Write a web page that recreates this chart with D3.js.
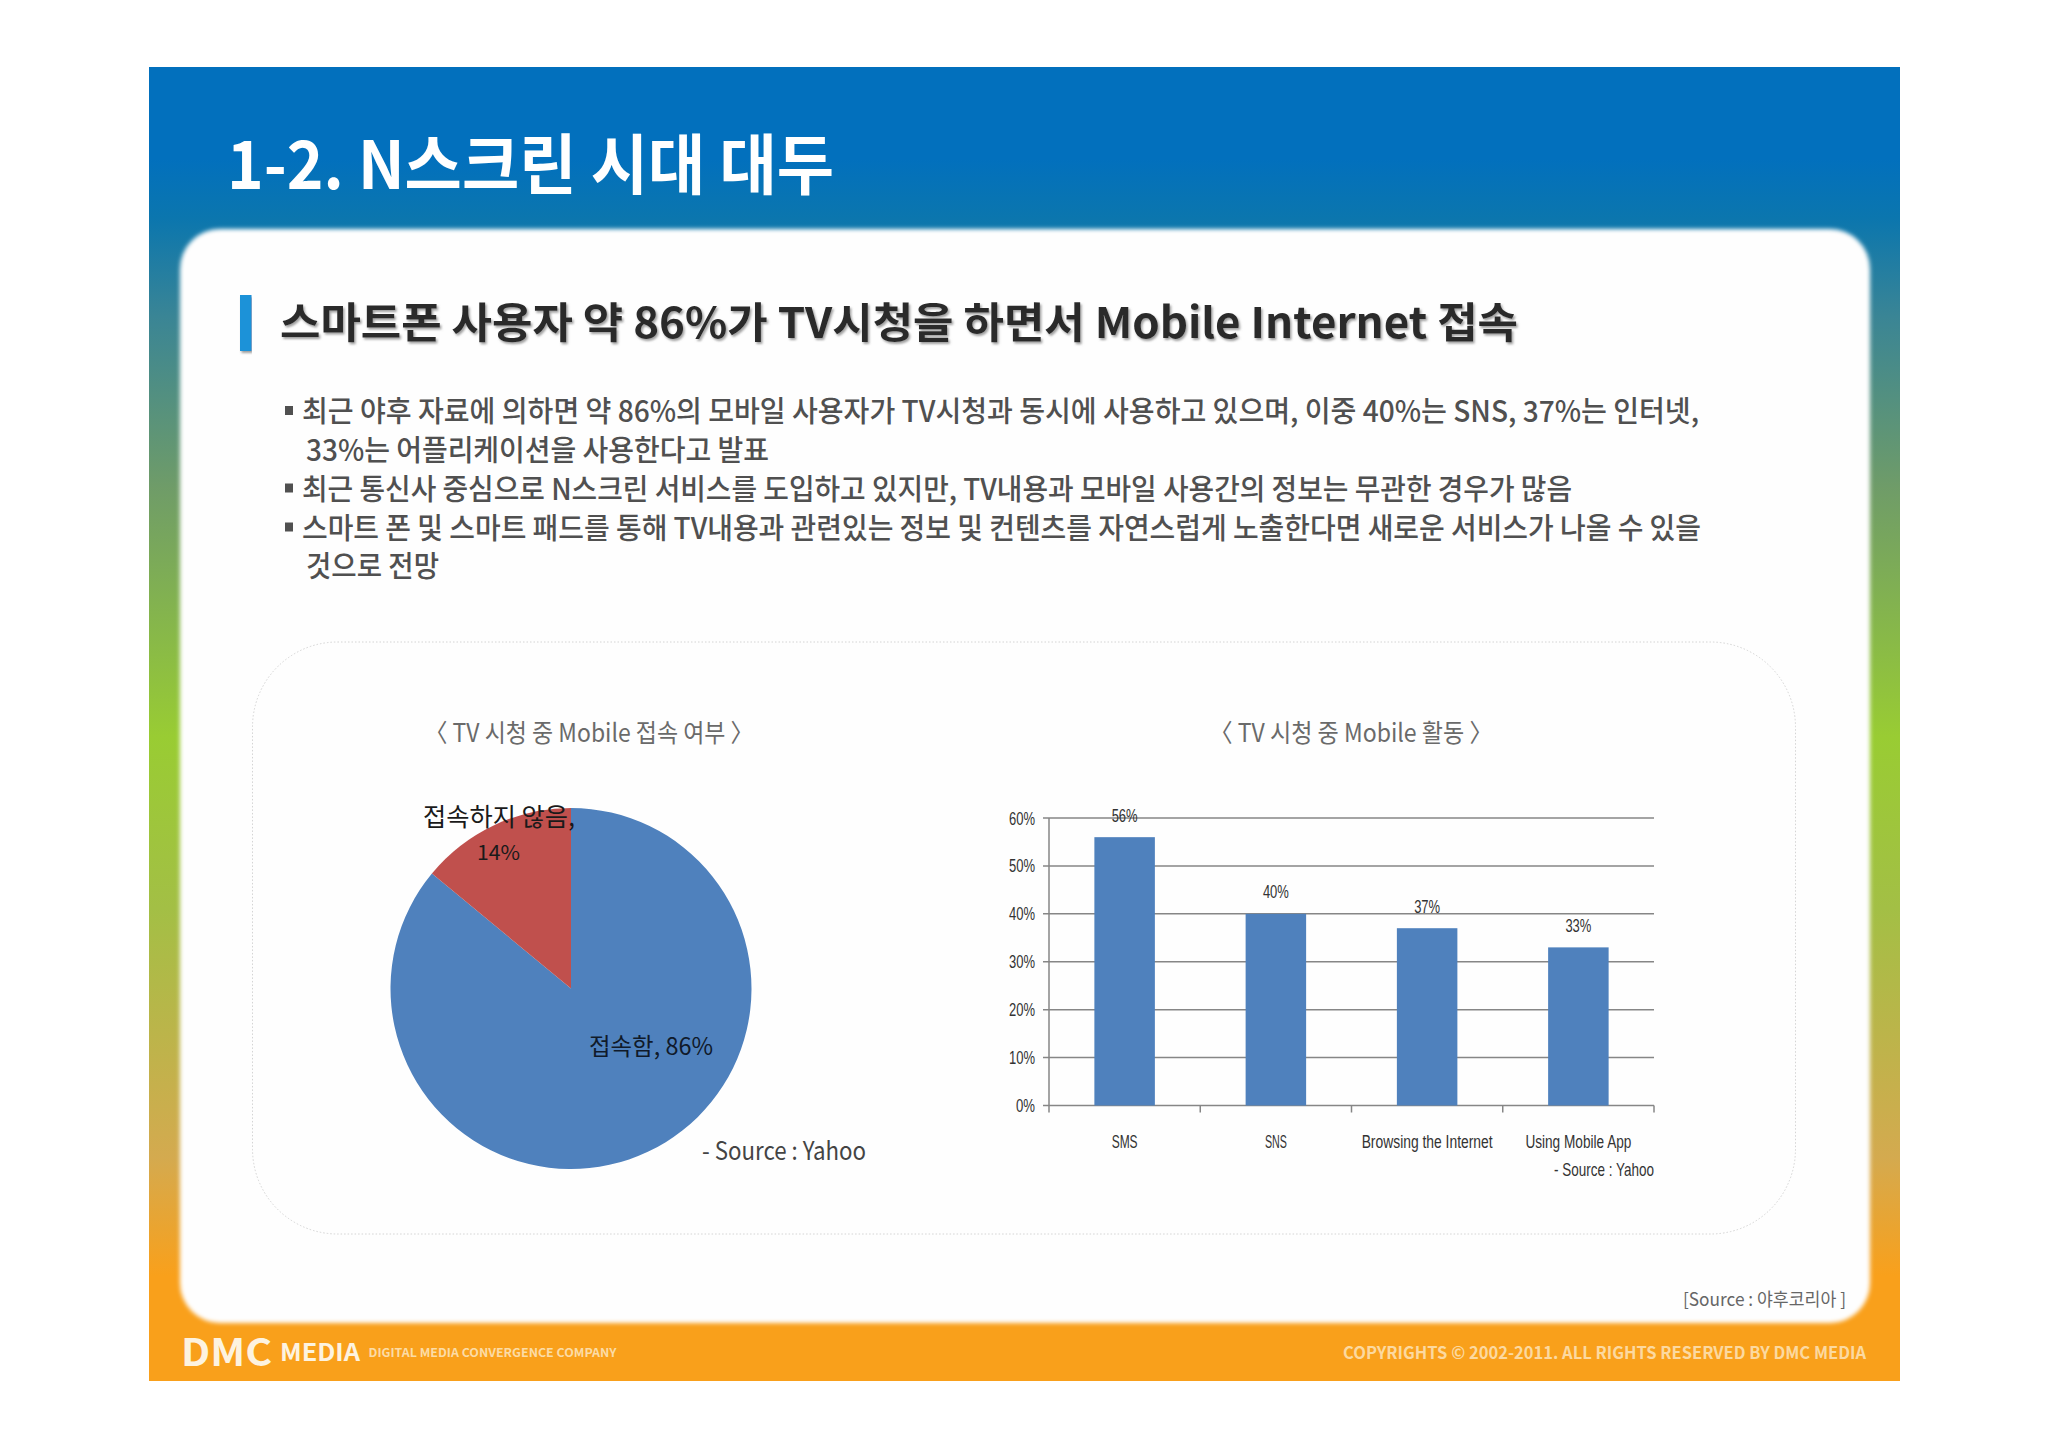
<!DOCTYPE html>
<html>
<head>
<meta charset="utf-8">
<style>
html, body { margin: 0; padding: 0; background: #fff; }
svg { display: block; }
text { font-family: "Noto Sans CJK KR", "Noto Sans", sans-serif; }
</style>
<script src="https://cdn.jsdelivr.net/npm/d3@7"></script>
</head>
<body>
<div id="chart"></div>
<script>
const pieLabels = ['접속함', '접속하지 않음'];
const pieValues = [86, 14];
const barCategories = ['SMS', 'SNS', 'Browsing the Internet', 'Using Mobile App'];
const barValues = [56, 40, 37, 33];
const barTicks = [0, 10, 20, 30, 40, 50, 60];
const bulletLines = [
    '최근 야후 자료에 의하면 약 86%의 모바일 사용자가 TV시청과 동시에 사용하고 있으며, 이중 40%는 SNS, 37%는 인터넷,',
    '33%는 어플리케이션을 사용한다고 발표',
    '최근 통신사 중심으로 N스크린 서비스를 도입하고 있지만, TV내용과 모바일 사용간의 정보는 무관한 경우가 많음',
    '스마트 폰 및 스마트 패드를 통해 TV내용과 관련있는 정보 및 컨텐츠를 자연스럽게 노출한다면 새로운 서비스가 나올 수 있을',
    '것으로 전망'
];
const colors = { blue: '#4f81bd', red: '#c0504d', grid: '#868686', body: '#505050', title: '#6a6a6a', bar: '#333' };

const svg = d3.select('#chart').append('svg').attr('width', 2048).attr('height', 1448);
const defs = svg.append('defs');

const grad = defs.append('linearGradient').attr('id', 'slideBg').attr('x1', 0).attr('y1', 0).attr('x2', 0).attr('y2', 1);
[[0, '#0270bd'], [0.07, '#0270bd'], [0.115, '#0b76ae'], [0.19, '#3a8595'], [0.32, '#6f9c68'], [0.51, '#99cc33'], [0.64, '#a3bf45'], [0.83, '#d4aa4f'], [0.92, '#f9a01b'], [1, '#f9a01b']]
    .forEach(s => grad.append('stop').attr('offset', s[0]).attr('stop-color', s[1]));
defs.append('filter').attr('id', 'soft').attr('x', '-2%').attr('y', '-2%').attr('width', '104%').attr('height', '104%')
    .append('feGaussianBlur').attr('stdDeviation', 2.2);
defs.append('filter').attr('id', 'headShadow').attr('x', '-1%').attr('y', '-10%').attr('width', '102%').attr('height', '130%')
    .append('feDropShadow').attr('dx', 1.5).attr('dy', 2).attr('stdDeviation', 0.8).attr('flood-color', '#888').attr('flood-opacity', 0.8);

// text with its left edge and width taken from the slide
function fitText(x, y, str, width, size, fill, weight) {
    return svg.append('text').attr('x', x).attr('y', y).attr('font-size', size).attr('fill', fill)
        .attr('font-weight', weight || 400).attr('textLength', width).attr('lengthAdjust', 'spacingAndGlyphs').text(str);
}

// slide background
svg.append('rect').attr('x', 149).attr('y', 67).attr('width', 1751).attr('height', 1314).attr('fill', 'url(#slideBg)');
svg.append('rect').attr('x', 180).attr('y', 229).attr('width', 1690).attr('height', 1094).attr('rx', 40)
    .attr('fill', '#fefefe').attr('filter', 'url(#soft)');
svg.append('rect').attr('x', 252.5).attr('y', 642).attr('width', 1543).attr('height', 592).attr('rx', 85)
    .attr('fill', 'none').attr('stroke', '#d4d4d4').attr('stroke-width', 1).attr('stroke-dasharray', '1.5 2');

// headings
fitText(227, 189, '1-2. N스크린 시대 대두', 607, 66, '#fff', 700);
svg.append('rect').attr('x', 240).attr('y', 295).attr('width', 11.5).attr('height', 56).attr('fill', '#1a92d8')
    .attr('filter', 'url(#headShadow)');
fitText(280, 338, '스마트폰 사용자 약 86%가 TV시청을 하면서 Mobile Internet 접속', 1238, 42, '#2b2b2b', 700)
    .attr('filter', 'url(#headShadow)');

// bullets
const bulletX = [302, 306, 302, 302, 306];
const bulletW = [1397, 463, 1270, 1399, 133];
const bulletY = [422, 460.5, 499.5, 538.5, 577];
bulletLines.forEach((t, i) => {
    fitText(bulletX[i], bulletY[i], t, bulletW[i], 29, colors.body, 500);
    if (bulletX[i] === 302) {
        svg.append('rect').attr('x', 285).attr('y', bulletY[i] - 16).attr('width', 8).attr('height', 9).attr('fill', colors.body);
    }
});

// pie
const pieG = svg.append('g').attr('transform', 'translate(571,988.5)');
const pieArc = d3.arc().innerRadius(0).outerRadius(180.5);
// red slice ends at twelve o'clock, blue runs clockwise from there
const pieData = d3.pie().value(d => d).sort(null)(pieValues);
pieG.selectAll('path').data(pieData).enter().append('path')
    .attr('d', pieArc).attr('fill', (d, i) => i === 0 ? colors.blue : colors.red);

fitText(424.5, 742, '〈 TV 시청 중 Mobile 접속 여부 〉', 329, 25, colors.title);
fitText(423, 826, pieLabels[1] + ',', 152, 25, '#1a1a1a');
fitText(477, 860, pieValues[1] + '%', 43, 20, '#1a1a1a');
fitText(589, 1055, pieLabels[0] + ', ' + pieValues[0] + '%', 124, 24, '#101a2a');
fitText(702, 1160, '- Source : Yahoo', 164, 25, '#444');

// bar chart
const margin = { left: 1049, right: 1654, top: 818, bottom: 1105.5 };
const x = d3.scaleBand().domain(barCategories).range([margin.left, margin.right]).paddingInner(0.6).paddingOuter(0.3);
const y = d3.scaleLinear().domain([0, 60]).range([margin.bottom, margin.top]);
const barFont = '"Liberation Sans", sans-serif';
const catWidths = [26, 22, 131, 106];

fitText(1209.5, 742, '〈 TV 시청 중 Mobile 활동 〉', 283, 25, colors.title);

svg.append('g').selectAll('line').data(barTicks).enter().append('line')
    .attr('x1', margin.left - 6).attr('x2', margin.right).attr('y1', d => y(d)).attr('y2', d => y(d))
    .attr('stroke', colors.grid).attr('stroke-width', 1.5);

const step = x.step();
svg.append('line').attr('x1', margin.left).attr('x2', margin.left).attr('y1', margin.top).attr('y2', margin.bottom + 7)
    .attr('stroke', colors.grid).attr('stroke-width', 1.5);
svg.append('g').selectAll('line').data(d3.range(1, barCategories.length + 1)).enter().append('line')
    .attr('x1', i => margin.left + i * step).attr('x2', i => margin.left + i * step)
    .attr('y1', margin.bottom).attr('y2', margin.bottom + 7)
    .attr('stroke', colors.grid).attr('stroke-width', 1.5);

svg.append('g').selectAll('rect').data(barValues).enter().append('rect')
    .attr('x', (d, i) => x(barCategories[i])).attr('y', d => y(d))
    .attr('width', x.bandwidth()).attr('height', d => y(0) - y(d)).attr('fill', colors.blue);

svg.append('g').selectAll('text').data(barTicks).enter().append('text')
    .attr('x', margin.left - 14).attr('y', d => y(d) + 6.5).attr('text-anchor', 'end')
    .attr('textLength', d => d === 0 ? 19 : 26).attr('lengthAdjust', 'spacingAndGlyphs')
    .style('font-family', barFont).attr('font-size', 18).attr('fill', colors.bar).text(d => d + '%');

svg.append('g').selectAll('text').data(barValues).enter().append('text')
    .attr('x', (d, i) => x(barCategories[i]) + x.bandwidth() / 2).attr('y', d => y(d) - 15.5)
    .attr('text-anchor', 'middle').attr('textLength', 26).attr('lengthAdjust', 'spacingAndGlyphs')
    .style('font-family', barFont).attr('font-size', 18).attr('fill', colors.bar).text(d => d + '%');

svg.append('g').selectAll('text').data(barCategories).enter().append('text')
    .attr('x', d => x(d) + x.bandwidth() / 2).attr('y', 1147.5).attr('text-anchor', 'middle')
    .attr('textLength', (d, i) => catWidths[i]).attr('lengthAdjust', 'spacingAndGlyphs')
    .style('font-family', barFont).attr('font-size', 18).attr('fill', colors.bar).text(d => d);

svg.append('text').attr('x', 1654).attr('y', 1175.5).attr('text-anchor', 'end')
    .attr('textLength', 100).attr('lengthAdjust', 'spacingAndGlyphs')
    .style('font-family', barFont).attr('font-size', 19).attr('fill', colors.bar).text('- Source : Yahoo');

// footer
fitText(1683, 1306, '[Source : 야후코리아 ]', 163, 18, '#666');
fitText(181, 1366, 'DMC', 91, 38, '#fdf3e0', 700);
fitText(280, 1361, 'MEDIA', 80, 24, '#fdf3e0', 700);
fitText(368.5, 1357, 'DIGITAL MEDIA CONVERGENCE COMPANY', 248, 12, '#fcdca6', 700);
fitText(1343, 1358.5, 'COPYRIGHTS © 2002-2011. ALL RIGHTS RESERVED BY DMC MEDIA', 523, 17, '#fcd9a0', 700);
</script>
</body>
</html>
